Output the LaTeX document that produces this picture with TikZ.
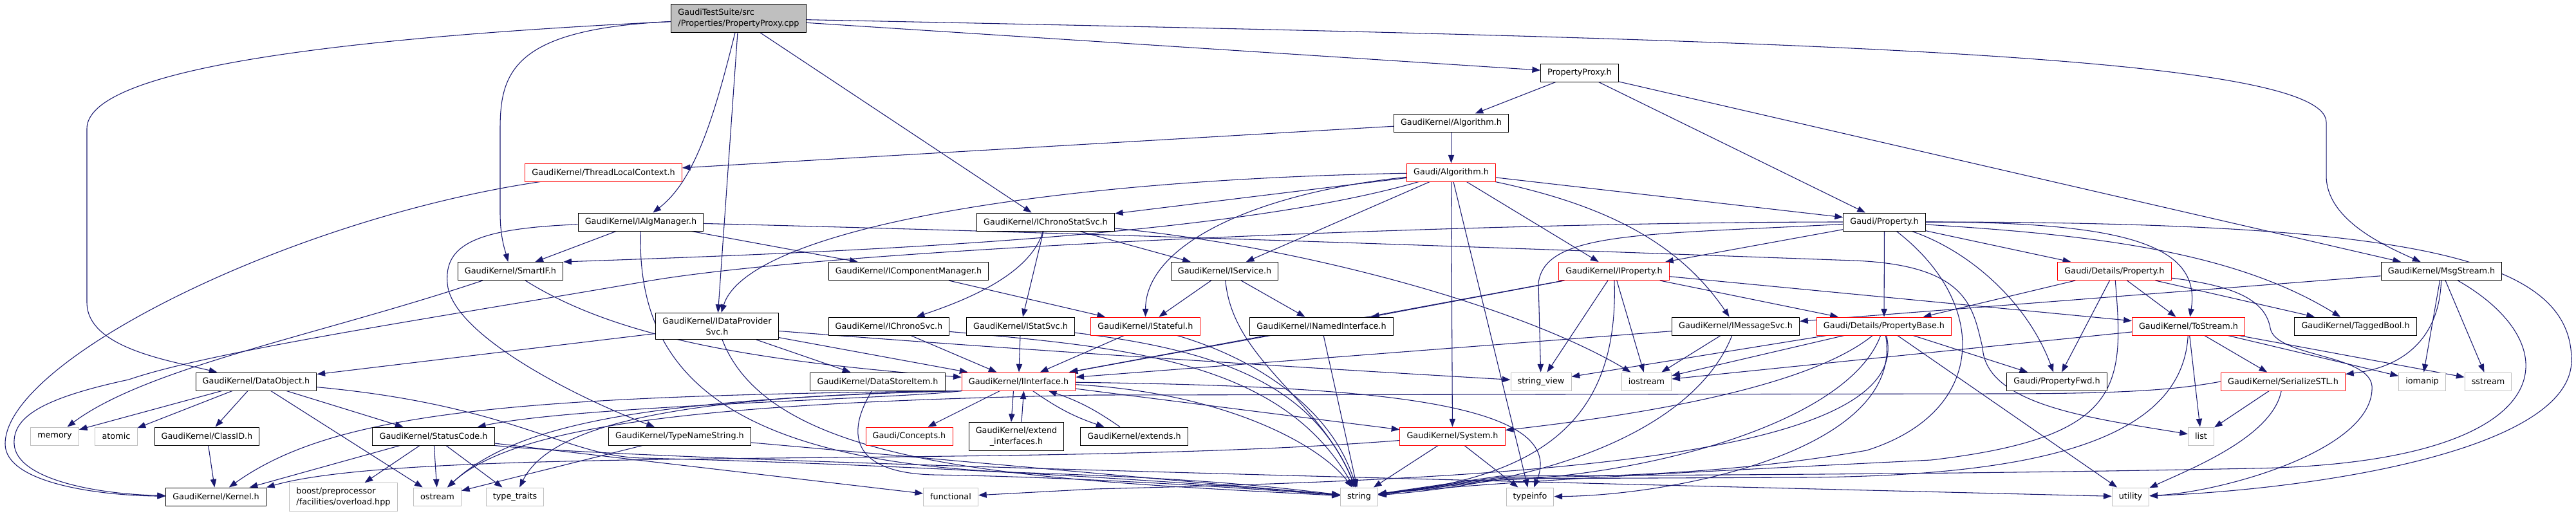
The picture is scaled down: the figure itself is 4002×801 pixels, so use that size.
\documentclass[tikz,border=0pt]{standalone}
\usepackage{fontspec}
\setmainfont{DejaVu Sans}
\usetikzlibrary{arrows.meta,backgrounds}
\definecolor{edgeblue}{RGB}{25,25,112}
\definecolor{truncred}{RGB}{255,0,0}
\definecolor{sysgray}{RGB}{191,191,191}
\definecolor{srcgray}{RGB}{191,191,191}

\begin{document}
\begin{tikzpicture}[x=0.75pt,y=-0.75pt,
	filebox/.style={rectangle, draw, fill=white, line width=0.75pt, inner xsep=8pt, inner ysep=5.5pt, minimum height=21pt, font=\fontsize{9.6}{12.5}\selectfont},
	hdr/.style={filebox, draw=black},
	truncd/.style={filebox, draw=truncred},
	syshdr/.style={filebox, draw=sysgray},
	srcfile/.style={filebox, draw=black, fill=srcgray},
	inc/.style={draw=edgeblue, line width=0.8pt, -{Triangle[length=9.5pt,width=7pt]}}]
	\useasboundingbox (0,0) rectangle (4002,801);
	\node[srcfile, align=left] (main) at (1147.5,28.5) {GaudiTestSuite/src\\/Properties/PropertyProxy.cpp};
	\node[hdr] (proxyh) at (2454,113) {PropertyProxy.h};
	\node[hdr] (gkalg) at (2254.5,191) {GaudiKernel/Algorithm.h};
	\node[truncd] (tlc) at (937.5,268) {GaudiKernel/ThreadLocalContext.h};
	\node[truncd] (galg) at (2254.5,268) {Gaudi/Algorithm.h};
	\node[hdr] (algmgr) at (995.5,345) {GaudiKernel/IAlgManager.h};
	\node[hdr] (chronostat) at (1624.5,345) {GaudiKernel/IChronoStatSvc.h};
	\node[hdr] (gprop) at (2927.5,345) {Gaudi/Property.h};
	\node[hdr] (smartif) at (793,421.5) {GaudiKernel/SmartIF.h};
	\node[hdr] (compmgr) at (1411.5,421.5) {GaudiKernel/IComponentManager.h};
	\node[hdr] (iservice) at (1902.5,421.5) {GaudiKernel/IService.h};
	\node[truncd] (iprop) at (2507.5,421.5) {GaudiKernel/IProperty.h};
	\node[truncd] (dprop) at (3285,421.5) {Gaudi/Details/Property.h};
	\node[hdr] (msgstream) at (3793,421.5) {GaudiKernel/MsgStream.h};
	\node[hdr, align=center] (dataprov) at (1114,507) {GaudiKernel/IDataProvider\\Svc.h};
	\node[hdr] (ichrono) at (1381,507) {GaudiKernel/IChronoSvc.h};
	\node[hdr] (istat) at (1585.5,507) {GaudiKernel/IStatSvc.h};
	\node[truncd] (istateful) at (1779.5,507) {GaudiKernel/IStateful.h};
	\node[hdr] (inamed) at (2053,507) {GaudiKernel/INamedInterface.h};
	\node[hdr] (imsgsvc) at (2696.5,507) {GaudiKernel/IMessageSvc.h};
	\node[truncd] (propbase) at (2927,507) {Gaudi/Details/PropertyBase.h};
	\node[truncd] (tostream) at (3400,507) {GaudiKernel/ToStream.h};
	\node[hdr] (taggedbool) at (3659.5,507) {GaudiKernel/TaggedBool.h};
	\node[hdr] (dataobj) at (398,593) {GaudiKernel/DataObject.h};
	\node[hdr] (storeitem) at (1363.5,593) {GaudiKernel/DataStoreItem.h};
	\node[truncd] (iinterface) at (1582.5,593) {GaudiKernel/IInterface.h};
	\node[syshdr] (strview) at (2394,593) {string\_view};
	\node[syshdr] (iostream) at (2558,593) {iostream};
	\node[hdr] (propfwd) at (3195.5,593) {Gaudi/PropertyFwd.h};
	\node[truncd] (serialize) at (3547,593) {GaudiKernel/SerializeSTL.h};
	\node[syshdr] (iomanip) at (3763,593) {iomanip};
	\node[syshdr] (sstream) at (3865.5,593) {sstream};
	\node[syshdr] (memory) at (85,678) {memory};
	\node[syshdr] (atomic) at (180.5,678) {atomic};
	\node[hdr] (classid) at (321.5,678) {GaudiKernel/ClassID.h};
	\node[hdr] (statuscode) at (673.5,678) {GaudiKernel/StatusCode.h};
	\node[hdr] (typename) at (1056,678) {GaudiKernel/TypeNameString.h};
	\node[truncd] (concepts) at (1412.5,678) {Gaudi/Concepts.h};
	\node[hdr, align=center] (extendif) at (1579,678.5) {GaudiKernel/extend\\\_interfaces.h};
	\node[hdr] (extends) at (1762,678) {GaudiKernel/extends.h};
	\node[truncd] (system) at (2256.5,678) {GaudiKernel/System.h};
	\node[syshdr] (list) at (3419.5,678) {list};
	\node[hdr] (kernel) at (335.5,772) {GaudiKernel/Kernel.h};
	\node[syshdr, align=left] (boost) at (533.5,772.5) {boost/preprocessor\\/facilities/overload.hpp};
	\node[syshdr] (ostream) at (679.5,772) {ostream};
	\node[syshdr] (typetraits) at (800,772) {type\_traits};
	\node[syshdr] (functional) at (1477,772) {functional};
	\node[syshdr] (string) at (2111.5,772) {string};
	\node[syshdr] (typeinfo) at (2377,772) {typeinfo};
	\node[syshdr] (utility) at (3310,772) {utility};
	\begin{pgfonlayer}{background}
	\draw[inc] (main) .. controls (500,60) and (135,110) .. (135,200) -- (135,470) .. controls (135,540) and (260,560) .. (dataobj);
	\draw[inc] (main) .. controls (800,45) and (777,110) .. (777,200) -- (777,330) .. controls (777,370) and (785,390) .. (smartif);
	\draw[inc] (main) .. controls (1110,180) and (1080,280) .. (algmgr);
	\draw[inc] (main) -- (dataprov);
	\draw[inc] (main) -- (chronostat);
	\draw[inc] (main) -- (proxyh);
	\draw[inc] (main) .. controls (2700,60) and (3614,80) .. (3614,190) -- (3614,273) .. controls (3614,340) and (3700,380) .. (msgstream);
	\draw[inc] (proxyh) -- (gkalg);
	\draw[inc] (proxyh) -- (gprop);
	\draw[inc] (proxyh) -- (msgstream);
	\draw[inc] (gkalg) -- (galg);
	\draw[inc] (gkalg) -- (tlc);
	\draw[inc] (tlc) .. controls (450,340) and (8,560) .. (8,690) .. controls (8,750) and (150,770) .. (kernel);
	\draw[inc] (galg) -- (chronostat);
	\draw[inc] (galg) -- (iservice);
	\draw[inc] (galg) .. controls (1950,300) and (1780,380) .. (istateful);
	\draw[inc] (galg) .. controls (1600,280) and (1160,360) .. (dataprov);
	\draw[inc] (galg) .. controls (1900,370) and (1300,392) .. (smartif.north east);
	\draw[inc] (galg) -- (iprop);
	\draw[inc] (galg) .. controls (2500,320) and (2610,380) .. (imsgsvc);
	\draw[inc] (galg) -- (system);
	\draw[inc] (galg) -- (typeinfo);
	\draw[inc] (galg) -- (gprop);
	\draw[inc] (algmgr) -- (smartif);
	\draw[inc] (algmgr) -- (compmgr);
	\draw[inc] (algmgr) .. controls (740,355) and (690,380) .. (695,440) .. controls (700,520) and (900,620) .. (typename);
	\draw[inc] (algmgr) .. controls (1800,365) and (2600,395) .. (2880,405) .. controls (3060,412) and (3065,480) .. (3080,540) .. controls (3085,630) and (3250,650) .. (list);
	\draw[inc] (algmgr) .. controls (990,560) and (1100,720) .. (1600,735) .. controls (1900,745) and (2000,760) .. (string);
	\draw[inc] (chronostat) .. controls (1600,430) and (1490,470) .. (ichrono);
	\draw[inc] (chronostat) -- (istat);
	\draw[inc] (chronostat) -- (iservice);
	\draw[inc] (chronostat) .. controls (2000,380) and (2350,470) .. (iostream);
	\draw[inc] (compmgr) -- (istateful);
	\draw[inc] (dataprov) -- (dataobj);
	\draw[inc] (dataprov) -- (storeitem);
	\draw[inc] (dataprov) -- (iinterface);
	\draw[inc] (dataprov) .. controls (1200,730) and (1600,745) .. (string);
	\draw[inc] (dataprov) .. controls (1600,545) and (2000,570) .. (strview);
	\draw[inc] (ichrono) -- (iinterface);
	\draw[inc] (ichrono) .. controls (1750,540) and (1990,560) .. (string);
	\draw[inc] (istat) -- (iinterface);
	\draw[inc] (istat) .. controls (1900,545) and (2040,600) .. (string);
	\draw[inc] (istateful) -- (iinterface);
	\draw[inc] (istateful) .. controls (1960,560) and (2070,640) .. (string);
	\draw[inc] (iservice) -- (istateful);
	\draw[inc] (iservice) -- (inamed);
	\draw[inc] (iservice) .. controls (1915,560) and (2050,620) .. (string);
	\draw[inc] (inamed) -- (iinterface);
	\draw[inc] (inamed) -- (string);
	\draw[inc] (smartif) .. controls (950,520) and (1150,560) .. (iinterface);
	\draw[inc] (smartif) .. controls (500,520) and (230,570) .. (memory);
	\draw[inc] (iinterface.south west) .. controls (800,615) and (520,640) .. (kernel);
	\draw[inc] (iinterface.south west) .. controls (1400,620) and (900,630) .. (statuscode);
	\draw[inc] (iinterface.south west) .. controls (1000,620) and (800,660) .. (ostream);
	\draw[inc] (iinterface.south west) .. controls (1100,615) and (860,650) .. (typetraits);
	\draw[inc] (iinterface) -- (concepts);
	\draw[inc] ([xshift=-6pt]iinterface.south) -- ([xshift=-6pt]extendif.north);
	\draw[inc] ([xshift=6pt]extendif.north) -- ([xshift=6pt]iinterface.south);
	\draw[inc] (iinterface) to[bend right=8] (extends);
	\draw[inc] (extends) to[bend right=8] (iinterface);
	\draw[inc] (iinterface) -- (system);
	\draw[inc] (iinterface) .. controls (1900,610) and (2050,690) .. (string);
	\draw[inc] (iinterface) .. controls (2100,600) and (2440,620) .. (typeinfo);
	\draw[inc] (statuscode) -- (kernel);
	\draw[inc] (statuscode) -- (boost);
	\draw[inc] (statuscode) -- (ostream);
	\draw[inc] (statuscode) -- (typetraits);
	\draw[inc] (statuscode) -- (functional);
	\draw[inc] (statuscode.south east) .. controls (1000,715) and (2000,740) .. (utility);
	\draw[inc] (typename) -- (string);
	\draw[inc] (typename) -- (ostream);
	\draw[inc] (storeitem) .. controls (1310,680) and (1330,735) .. (1450,738) .. controls (1700,742) and (1950,760) .. (string);
	\draw[inc] (dataobj) -- (memory);
	\draw[inc] (dataobj) -- (atomic);
	\draw[inc] (dataobj) -- (classid);
	\draw[inc] (dataobj) -- (ostream);
	\draw[inc] (dataobj) -- (statuscode);
	\draw[inc] (dataobj) .. controls (800,630) and (880,710) .. (1000,712) .. controls (1400,722) and (1800,745) .. (string);
	\draw[inc] (classid) -- (kernel);
	\draw[inc] (system) -- (string);
	\draw[inc] (system) -- (typeinfo);
	\draw[inc] (system) .. controls (1600,730) and (650,690) .. (kernel.north east);
	\draw[inc] (iprop) -- (inamed);
	\draw[inc] (iprop) -- (iinterface);
	\draw[inc] (iprop) -- (strview);
	\draw[inc] (iprop) -- (iostream);
	\draw[inc] (iprop) -- (propbase);
	\draw[inc] (iprop) -- (tostream);
	\draw[inc] (iprop) .. controls (2515,650) and (2400,740) .. (string);
	\draw[inc] (imsgsvc) -- (iinterface);
	\draw[inc] (imsgsvc) -- (iostream);
	\draw[inc] (imsgsvc) .. controls (2640,650) and (2450,745) .. (string);
	\draw[inc] (propbase) -- (strview);
	\draw[inc] (propbase) -- (iostream);
	\draw[inc] (propbase) -- (propfwd);
	\draw[inc] (propbase) -- (utility);
	\draw[inc] (propbase) .. controls (2800,610) and (2500,650) .. (system);
	\draw[inc] (propbase) .. controls (2870,660) and (2550,740) .. (2330,746) -- (string);
	\draw[inc] (propbase) .. controls (2960,700) and (2600,770) .. (typeinfo);
	\draw[inc] (propbase) .. controls (2980,720) and (2300,745) .. (1700,760) -- (functional);
	\draw[inc] (dprop) -- (propbase);
	\draw[inc] (dprop) -- (tostream);
	\draw[inc] (dprop) -- (propfwd);
	\draw[inc] (dprop) -- (taggedbool);
	\draw[inc] (dprop) .. controls (3300,600) and (3300,680) .. (3000,715) .. controls (2600,735) and (2300,750) .. (string);
	\draw[inc] (dprop) .. controls (3480,445) and (3520,470) .. (3527,510) .. controls (3535,555) and (3680,550) .. (3685,600) .. controls (3690,700) and (3450,765) .. (utility);
	\draw[inc] (tostream) -- (serialize);
	\draw[inc] (tostream) -- (list);
	\draw[inc] (tostream) -- (iomanip);
	\draw[inc] (tostream) -- (sstream);
	\draw[inc] (tostream) -- (iostream);
	\draw[inc] (tostream) .. controls (3390,690) and (3150,740) .. (2800,742) -- (2330,744) -- (string);
	\draw[inc] (serialize) -- (list);
	\draw[inc] (serialize) .. controls (3530,680) and (3400,730) .. (utility);
	\draw[inc] (serialize.west) .. controls (3380,606) and (3300,612) .. (3100,612) -- (1700,614) .. controls (1100,625) and (800,660) .. (ostream);
	\draw[inc] (msgstream) -- (imsgsvc);
	\draw[inc] (msgstream) .. controls (3790,520) and (3740,570) .. (serialize);
	\draw[inc] (msgstream) -- (iomanip);
	\draw[inc] (msgstream) -- (sstream);
	\draw[inc] (msgstream) .. controls (4000,540) and (3980,720) .. (3500,728) .. controls (3000,738) and (2600,738) .. (2330,740) -- (string);
	\draw[inc] (gprop) -- (dprop);
	\draw[inc] (gprop) -- (propbase);
	\draw[inc] (gprop) -- (iprop);
	\draw[inc] (gprop) .. controls (3060,390) and (3150,470) .. (propfwd);
	\draw[inc] (gprop) .. controls (3250,365) and (3470,390) .. (taggedbool);
	\draw[inc] (gprop) .. controls (3300,345) and (3420,380) .. (tostream);
	\draw[inc] (gprop) .. controls (2550,365) and (2400,360) .. (2390,440) -- (strview);
	\draw[inc] (gprop) .. controls (3090,470) and (3090,640) .. (2900,700) .. controls (2700,735) and (2500,742) .. (2330,742) -- (string);
	\draw[inc] (gprop) .. controls (2300,345) and (1300,385) .. (1000,438) .. controls (700,490) and (330,545) .. (200,590) .. controls (60,620) and (20,650) .. (22,690) .. controls (25,745) and (150,768) .. (kernel);
	\draw[inc] (gprop) .. controls (3750,345) and (3995,400) .. (3995,560) .. controls (3995,700) and (3600,760) .. (utility);
	\end{pgfonlayer}
\end{tikzpicture}
\end{document}
